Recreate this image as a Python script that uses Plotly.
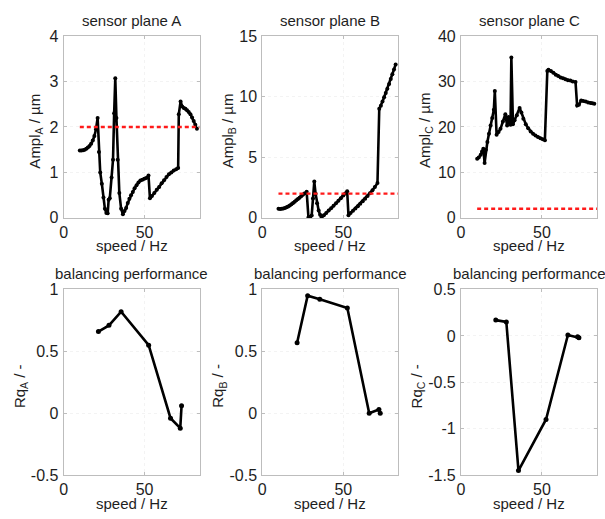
import plotly.graph_objects as go

# Vibration amplitude over run-up speed, sensor planes A, B, C
speed_a = [10.0, 11.0, 12.0, 13.0, 14.0, 15.0, 16.0, 17.0, 18.0, 19.0, 20.0, 21.0,
           21.8, 22.6, 23.6, 24.6, 25.5, 26.4, 27.2, 27.8, 28.5, 29.6, 30.5, 31.2,
           31.9, 32.6, 33.4, 34.4, 35.5, 36.6, 37.6, 38.6, 39.6, 40.6, 41.6, 42.7,
           43.8, 45.0, 46.2, 47.4, 48.6, 49.8, 51.0, 52.4, 53.3, 54.5, 56.0, 57.5,
           59.0, 60.5, 62.0, 63.5, 65.0, 66.5, 68.0, 69.5, 70.7, 71.1, 72.2, 73.2,
           74.2, 75.2, 76.2, 77.2, 78.3, 79.3, 80.3, 81.3, 82.3]
ampl_a = [1.48, 1.48, 1.49, 1.50, 1.52, 1.55, 1.58, 1.63, 1.70, 1.80, 1.95, 2.20,
          1.45, 1.00, 0.75, 0.45, 0.20, 0.11, 0.10, 0.40, 0.43, 0.89, 1.28, 2.30,
          3.07, 2.20, 1.28, 0.55, 0.20, 0.08, 0.15, 0.22, 0.33, 0.42, 0.50, 0.57,
          0.65, 0.72, 0.78, 0.82, 0.84, 0.86, 0.88, 0.93, 0.43, 0.48, 0.55, 0.62,
          0.68, 0.76, 0.83, 0.90, 0.96, 1.00, 1.04, 1.07, 1.10, 2.28, 2.56, 2.45,
          2.42, 2.40, 2.37, 2.33, 2.28, 2.21, 2.13, 2.05, 1.96]

speed_b = [10.0, 11.0, 12.0, 13.0, 14.0, 15.0, 16.0, 17.0, 18.0, 19.0, 20.0, 21.0,
           22.0, 23.0, 24.0, 25.0, 26.0, 27.4, 28.5, 29.5, 30.5, 31.3, 32.1, 32.9,
           33.8, 34.8, 35.7, 36.6, 38.0, 39.5, 41.0, 42.5, 44.0, 45.5, 47.0, 48.5,
           50.0, 51.2, 52.4, 53.2, 54.5, 56.0, 57.5, 59.0, 60.5, 62.0, 63.5, 65.0,
           66.5, 68.0, 69.5, 71.1, 72.2, 73.2, 74.2, 75.2, 76.2, 77.2, 78.3, 79.3,
           80.3, 81.3, 82.3]
ampl_b = [0.75, 0.74, 0.75, 0.78, 0.82, 0.88, 0.95, 1.03, 1.12, 1.22, 1.33, 1.45,
          1.56, 1.67, 1.78, 1.90, 2.02, 2.15, 0.05, 0.08, 0.20, 1.60, 3.00, 2.00,
          1.20, 0.60, 0.25, 0.05, 0.22, 0.40, 0.60, 0.80, 1.00, 1.20, 1.42, 1.63,
          1.85, 2.02, 2.20, 0.22, 0.40, 0.58, 0.78, 0.97, 1.17, 1.38, 1.58, 1.80,
          2.03, 2.27, 2.55, 2.87, 9.00, 9.25, 9.60, 9.95, 10.30, 10.65, 11.05, 11.45,
          11.85, 12.25, 12.66]

speed_c = [10.0, 11.0, 12.2, 13.0, 13.8, 14.6, 15.4, 16.3, 17.3, 18.3, 19.3, 20.3,
           20.9, 22.0, 23.2, 24.4, 25.9, 27.4, 28.5, 29.3, 30.0, 30.6, 31.1, 32.1,
           33.1, 34.5, 36.2, 37.3, 38.5, 40.0, 41.5, 43.0, 44.5, 46.0, 47.5, 49.0,
           50.5, 51.8, 53.3, 54.0, 55.5, 57.0, 58.5, 60.0, 61.5, 63.0, 64.5, 66.0,
           67.5, 69.0, 70.7, 71.7, 72.8, 74.2, 75.5, 77.0, 78.5, 80.0, 81.2, 82.3]
ampl_c = [13.0, 13.3, 13.9, 14.6, 15.2, 12.1, 15.0, 16.7, 18.5, 20.3, 22.0, 23.8,
          27.9, 18.3, 18.9, 19.6, 21.2, 22.8, 20.3, 22.2, 21.0, 20.5, 35.3, 20.6,
          21.5, 22.6, 24.2, 23.2, 21.8, 20.6, 19.7, 19.0, 18.5, 18.1, 17.8, 17.5,
          17.3, 17.1, 32.3, 32.6, 32.3, 31.9, 31.5, 31.2, 30.9, 30.7, 30.5, 30.3,
          30.2, 30.0, 29.9, 24.7, 24.9, 25.8, 25.7, 25.6, 25.4, 25.3, 25.2, 25.1]

# Admissible amplitude limit (µm)
limit_level = 2.0

# Balancing performance Rq per plane
rq_speed = [21.5, 28.0, 35.5, 52.5, 66.0, 72.0, 72.8]
rq_a = [0.66, 0.71, 0.82, 0.55, -0.04, -0.12, 0.06]
rq_b = [0.57, 0.95, 0.92, 0.85, 0.00, 0.03, 0.00]
rq_c = [0.17, 0.15, -1.45, -0.90, 0.01, -0.01, -0.02]

top_titles = ["sensor plane A", "sensor plane B", "sensor plane C"]
bottom_title = "balancing performance"
top_ylabels = ["Ampl<sub>A</sub> / µm", "Ampl<sub>B</sub> / µm", "Ampl<sub>C</sub> / µm"]
bottom_ylabels = ["Rq<sub>A</sub> / -", "Rq<sub>B</sub> / -", "Rq<sub>C</sub> / -"]
xlabel = "speed / Hz"

W, H = 605, 519
X_MAX = 84.0

FONT = "Liberation Sans, Arial, Helvetica, sans-serif"
FS = 15        # titles and axis labels
FS_TICK = 16   # tick labels
AX_COLOR = "#bdbdbd"
TXT = "#1e1e1e"

# Plot-area pixel boxes (left, right) per column and (top, bottom) per row
cols = [(60, 197), (260, 397), (460, 597)]
rows = [(29, 217), (291, 483)]


def px_x(p):
    return p / W


def px_y(p):
    return 1 - p / H


fig = go.Figure()

line_style = dict(color="black", width=2.6)
marker_style = dict(color="black", size=4, symbol="circle")

top_series = [(speed_a, ampl_a), (speed_b, ampl_b), (speed_c, ampl_c)]
bottom_series = [rq_a, rq_b, rq_c]

top_ranges = [(0, 4, [0, 1, 2, 3, 4], ["0", "1", "2", "3", "4"]),
              (0, 15, [0, 5, 10, 15], ["0", "5", "10", "15"]),
              (0, 40, [0, 10, 20, 30, 40], ["0", "10", "20", "30", "40"])]
bottom_ranges = [(-0.5, 1, [-0.5, 0, 0.5, 1], ["-0.5", "0", "0.5", "1"]),
                 (-0.5, 1, [-0.5, 0, 0.5, 1], ["-0.5", "0", "0.5", "1"]),
                 (-1.5, 0.5, [-1.5, -1, -0.5, 0, 0.5], ["-1.5", "-1", "-0.5", "0", "0.5"])]

ylabel_x_top = [32, 226, 425]
ylabel_x_bot = [16, 216, 416]

annotations = []
layout_axes = {}

for r in range(2):
    for c in range(3):
        idx = r * 3 + c + 1
        xa = "x" if idx == 1 else f"x{idx}"
        ya = "y" if idx == 1 else f"y{idx}"
        xkey = "xaxis" if idx == 1 else f"xaxis{idx}"
        ykey = "yaxis" if idx == 1 else f"yaxis{idx}"
        left, right = cols[c]
        top, bottom = rows[r]

        if r == 0:
            sx, sy = top_series[c]
            fig.add_trace(go.Scatter(
                x=sx, y=sy, mode="lines+markers", line=line_style,
                marker=marker_style, xaxis=xa, yaxis=ya, showlegend=False))
            fig.add_trace(go.Scatter(
                x=[sx[0], X_MAX], y=[limit_level, limit_level], mode="lines",
                line=dict(color="#ff1a1a", width=2.4, dash="4px,3px"),
                xaxis=xa, yaxis=ya, showlegend=False))
            y0, y1, tv, tt = top_ranges[c]
            title = top_titles[c]
            ylab = top_ylabels[c]
            ylx = ylabel_x_top[c]
        else:
            fig.add_trace(go.Scatter(
                x=rq_speed, y=bottom_series[c], mode="lines+markers",
                line=line_style, marker=dict(color="black", size=5),
                xaxis=xa, yaxis=ya, showlegend=False))
            y0, y1, tv, tt = bottom_ranges[c]
            title = bottom_title
            ylab = bottom_ylabels[c]
            ylx = ylabel_x_bot[c]

        common = dict(
            showline=True, linecolor=AX_COLOR, linewidth=1, mirror="ticks",
            ticks="inside", ticklen=3, tickcolor=AX_COLOR,
            showgrid=True, gridcolor="#f3f3f3", griddash="dot", gridwidth=1,
            zeroline=False, tickfont=dict(size=FS_TICK, color=TXT, family=FONT),
            fixedrange=True,
        )
        layout_axes[xkey] = dict(
            domain=[px_x(left), px_x(right)], range=[0, X_MAX],
            tickvals=[0, 50], ticktext=["0", "50"], anchor=ya,
            ticklabelstandoff=0, **common)
        layout_axes[ykey] = dict(
            domain=[px_y(bottom), px_y(top)], range=[y0, y1],
            tickvals=tv, ticktext=tt, anchor=xa, ticklabelstandoff=1, **common)

        cx = (left + right) / 2
        annotations.append(dict(
            text=title, x=px_x(cx), y=px_y(top - 16), xref="paper", yref="paper",
            showarrow=False, xanchor="center", yanchor="middle",
            font=dict(size=FS, color=TXT, family=FONT)))
        annotations.append(dict(
            text=xlabel, x=px_x(cx), y=px_y(bottom + 29), xref="paper", yref="paper",
            showarrow=False, xanchor="center", yanchor="middle",
            font=dict(size=FS, color=TXT, family=FONT)))
        annotations.append(dict(
            text=ylab, x=px_x(ylx), y=px_y((top + bottom) / 2 + 4),
            xref="paper", yref="paper", textangle=-90,
            showarrow=False, xanchor="center", yanchor="middle",
            font=dict(size=FS, color=TXT, family=FONT)))

fig.update_layout(
    width=W, height=H,
    margin=dict(l=0, r=0, t=0, b=0),
    paper_bgcolor="white", plot_bgcolor="white",
    font=dict(family=FONT, size=FS, color=TXT),
    annotations=annotations,
    showlegend=False,
    **layout_axes,
)

fig.write_html("out.html")
